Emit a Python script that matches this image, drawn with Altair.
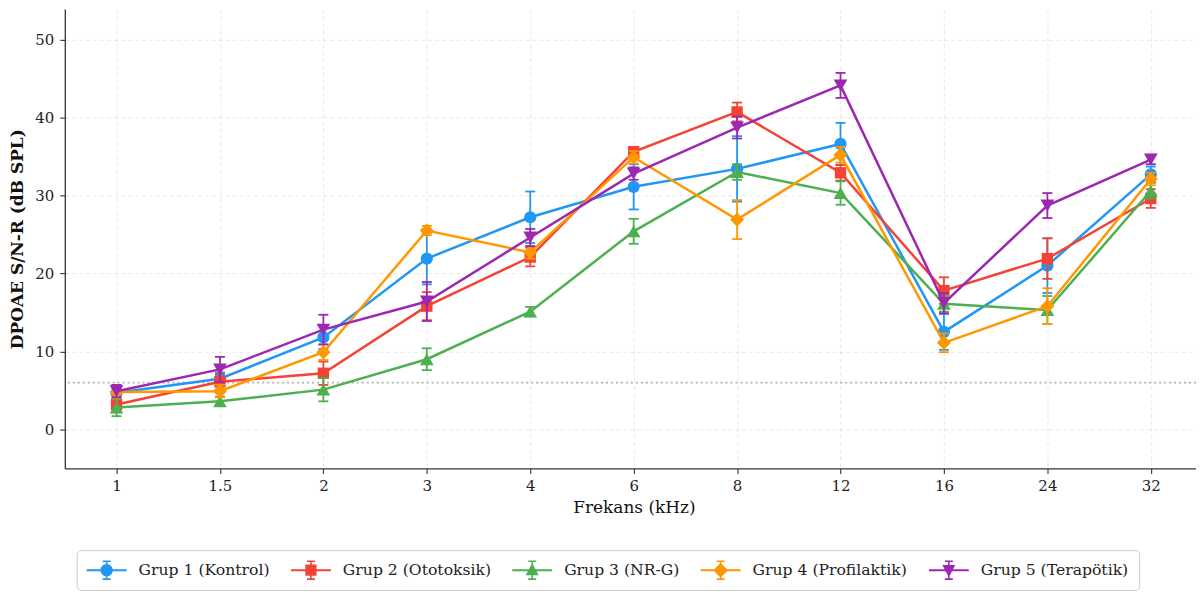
import json
import altair as alt
import pandas as pd

# ---------------- data ----------------
freq_labels = ["1", "1.5", "2", "3", "4", "6", "8", "12", "16", "24", "32"]

groups = ["Grup 1 (Kontrol)", "Grup 2 (Ototoksik)", "Grup 3 (NR-G)",
          "Grup 4 (Profilaktik)", "Grup 5 (Terapötik)"]
colors = ["#2196F3", "#F44336", "#4CAF50", "#FF9800", "#9C27B0"]
shapes = ["circle", "square", "triangle-up", "diamond", "triangle-down"]

g1_mean = [4.7, 6.5, 11.8, 21.9, 27.2, 31.1, 33.4, 36.6, 12.5, 21.0, 32.7]
g1_err = [1.0, 0.8, 1.5, 3.3, 3.3, 2.9, 4.2, 2.7, 2.3, 3.5, 1.0]
g2_mean = [3.2, 6.1, 7.2, 15.8, 22.1, 35.6, 40.7, 32.9, 17.8, 21.9, 29.6]
g2_err = [1.0, 1.0, 1.5, 1.8, 1.2, 0.6, 1.2, 1.0, 1.7, 2.6, 1.2]
g3_mean = [2.8, 3.6, 5.1, 9.0, 15.1, 25.4, 33.0, 30.3, 16.1, 15.3, 30.6]
g3_err = [1.1, 0.6, 1.5, 1.4, 0.6, 1.6, 1.0, 1.5, 1.0, 1.8, 1.0]
g4_mean = [4.8, 4.9, 9.9, 25.5, 22.7, 34.9, 26.9, 35.2, 11.1, 15.8, 32.1]
g4_err = [0.8, 0.8, 1.0, 0.6, 0.8, 0.8, 2.5, 1.0, 1.2, 2.3, 0.8]
g5_mean = [4.9, 7.7, 12.8, 16.4, 24.6, 32.8, 38.7, 44.1, 16.2, 28.7, 34.6]
g5_err = [0.8, 1.6, 1.9, 2.5, 1.1, 0.8, 1.4, 1.6, 1.3, 1.6, 0.6]

threshold = [6]

means = [g1_mean, g2_mean, g3_mean, g4_mean, g5_mean]
errs = [g1_err, g2_err, g3_err, g4_err, g5_err]

# ---------------- styling ----------------
FONT = "DejaVu Serif"
marker_sizes = [150, 130, 190, 200, 190]

# legend glyphs: line + marker + error bar (custom symbol paths, unit box)
BASE = ("M-2,-0.1H2V0.1H-2Z"
        "M-0.08,-0.9H0.08V0.9H-0.08Z"
        "M-0.4,-0.98H0.4V-0.82H-0.4Z"
        "M-0.4,0.82H0.4V0.98H-0.4Z")
legend_paths = [
    BASE + "M0.62,0A0.62,0.62 0 1,1 -0.62,0A0.62,0.62 0 1,1 0.62,0Z",
    BASE + "M-0.56,-0.56H0.56V0.56H-0.56Z",
    BASE + "M0,-0.72L0.65,0.52L-0.65,0.52Z",
    BASE + "M0,-0.75L0.75,0L0,0.75L-0.75,0Z",
    BASE + "M-0.65,-0.52L0.65,-0.52L0,0.72Z",
]

rows = []
for gi, name in enumerate(groups):
    for i, (m, e) in enumerate(zip(means[gi], errs[gi])):
        rows.append(dict(group=name, idx=i, value=m, low=m - e, high=m + e,
                         col=colors[gi], shp=shapes[gi], sz=marker_sizes[gi]))
df = pd.DataFrame(rows)

label_expr = json.dumps(freq_labels) + "[datum.value]"

x_scale = alt.Scale(domain=[-0.5, 10.437], nice=False, zero=False)
y_scale = alt.Scale(domain=[-5, 53.9], nice=False, zero=False)

x_axis = alt.Axis(values=list(range(len(freq_labels))), labelExpr=label_expr,
                  titleFontWeight="normal", titlePadding=6, labelPadding=5,
                  titleX=571)
y_axis = alt.Axis(values=[0, 10, 20, 30, 40, 50], titleFontWeight="bold",
                  titlePadding=8, labelPadding=6)

X_TITLE = "Frekans (kHz)"
Y_TITLE = "DPOAE S/N-R (dB SPL)"


def X(field="idx"):
    return alt.X(f"{field}:Q", scale=x_scale, axis=x_axis, title=X_TITLE)


def Y(field):
    return alt.Y(f"{field}:Q", scale=y_scale, axis=y_axis, title=Y_TITLE)


layers = []

thr_df = pd.DataFrame({"t": threshold})
layers.append(
    alt.Chart(thr_df).mark_rule(color="#9e9e9e", strokeWidth=2,
                                strokeDash=[2, 3], opacity=0.8)
    .encode(y=Y("t"))
)

for name in groups:
    base = alt.Chart(df).transform_filter(alt.datum.group == name)
    col = alt.Color("col:N", scale=None)
    layers.append(base.mark_line(strokeWidth=2.5).encode(x=X(), y=Y("value"), color=col))
    layers.append(base.mark_rule(strokeWidth=1.8).encode(
        x=X(), y=Y("low"), y2="high:Q", color=col))
    layers.append(base.mark_tick(orient="horizontal", size=10, thickness=1.8, opacity=1)
                  .encode(x=X(), y=Y("low"), color=col))
    layers.append(base.mark_tick(orient="horizontal", size=10, thickness=1.8, opacity=1)
                  .encode(x=X(), y=Y("high"), color=col))
    layers.append(base.mark_point(filled=True, opacity=1, strokeWidth=0).encode(
        x=X(), y=Y("value"), color=col,
        shape=alt.Shape("shp:N", scale=None),
        size=alt.Size("sz:Q", scale=None)))

legend = alt.Legend(
    orient="none", legendX=12, legendY=543, direction="horizontal", columns=5,
    symbolSize=400, symbolOffset=10, labelOffset=22, columnPadding=21,
    padding=10, strokeColor="#cccccc", fillColor="white", cornerRadius=4,
    labelFont=FONT, labelFontSize=15.7, labelColor="#222222",
    symbolStrokeWidth=0, labelLimit=400,
)

leg_df = pd.DataFrame({"group": groups, "idx": [0] * 5, "value": [-100] * 5})
layers.append(
    alt.Chart(leg_df).mark_point(filled=True, opacity=1, clip=True).encode(
        x=X(), y=Y("value"),
        color=alt.Color("group:N", scale=alt.Scale(domain=groups, range=colors),
                        title=None, legend=legend),
        shape=alt.Shape("group:N", scale=alt.Scale(domain=groups, range=legend_paths),
                        title=None, legend=legend),
    )
)

chart = (
    alt.layer(*layers)
    .properties(width=1135, height=461,
                autosize=alt.AutoSizeParams(type="none"),
                padding={"left": 57, "top": 0, "right": 0, "bottom": 122})
    .configure_view(stroke=None)
    .configure_axis(
        labelFont=FONT, titleFont=FONT, labelFontSize=15, titleFontSize=17,
        labelColor="#222222", titleColor="#111111",
        domainColor="#333333", domainWidth=1.3,
        tickColor="#333333", tickSize=5, tickWidth=1.1,
        gridColor="#b5b5b5", gridOpacity=0.35, gridWidth=0.9, gridDash=[4, 3],
    )
)

chart.save("out.html", embed_options={"renderer": "svg", "actions": False})
